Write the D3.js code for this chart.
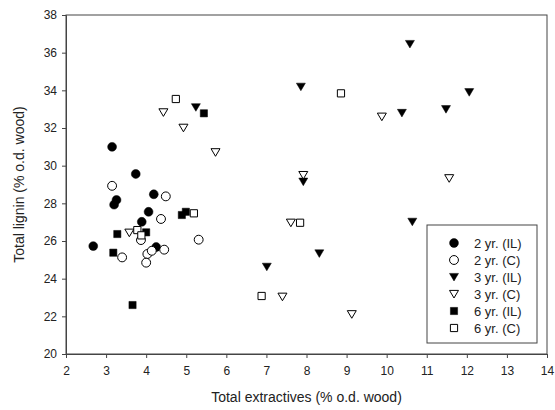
<!DOCTYPE html>
<html><head><meta charset="utf-8">
<script src="https://cdn.jsdelivr.net/npm/d3@7"></script>
<style>body{margin:0;background:#fff;}svg{display:block;font-family:"Liberation Sans",Arial,sans-serif;}</style>
</head><body><svg id="c" width="555" height="410"></svg>
<script>
const seriesNames = ["2 yr. (IL)","2 yr. (C)","3 yr. (IL)","3 yr. (C)","6 yr. (IL)","6 yr. (C)"];
const seriesShapes = ["circle","circle","triangle","triangle","square","square"];
const seriesFilled = [true,false,true,false,true,false];
const yr2IL = [[2.68,25.73],[3.15,31.0],[3.74,29.56],[4.19,28.48],[3.26,28.18],[3.20,27.93],[4.06,27.55],[3.89,27.02],[4.25,25.68]];
const yr2C = [[3.15,28.93],[4.49,28.37],[4.37,27.17],[3.87,26.05],[5.31,26.07],[3.40,25.13],[4.03,25.31],[4.14,25.48],[4.45,25.54],[4.0,24.85]];
const yr3IL = [[10.58,36.46],[7.86,34.19],[12.06,33.9],[10.38,32.8],[11.48,33.0],[7.92,29.15],[10.64,27.02],[8.32,25.34],[7.01,24.63],[5.24,33.1]];
const yr3C = [[9.88,32.6],[7.92,29.5],[11.56,29.33],[7.61,26.97],[7.40,23.04],[9.13,22.11],[4.43,32.83],[4.93,32.01],[5.73,30.71],[3.58,26.44]];
const yr6IL = [[5.44,32.78],[4.89,27.38],[4.99,27.55],[3.28,26.37],[4.0,26.46],[3.18,25.38],[3.66,22.6]];
const yr6C = [[8.86,33.84],[7.84,26.97],[6.88,23.08],[4.74,33.54],[5.19,27.47],[3.78,26.58],[3.88,26.3]];
const seriesData = [yr2IL,yr2C,yr3IL,yr3C,yr6IL,yr6C];
const xTicks = [2,3,4,5,6,7,8,9,10,11,12,13,14];
const yTicks = [20,22,24,26,28,30,32,34,36,38];

const svg = d3.select("#c");
const L=66,R=547,T=15,B=354;
const x = d3.scaleLinear().domain([2,14]).range([L,R]);
const y = d3.scaleLinear().domain([20,38]).range([B,T]);
const ink="#222";

function shapePath(shape){
  if(shape==="circle") return d3.symbol().type(d3.symbolCircle).size(62)();
  if(shape==="square") return d3.symbol().type(d3.symbolSquare).size(52)();
  // downward triangle
  return "M-4.5,-3.6L4.5,-3.6L0,4Z";
}

// frame
svg.append("rect").attr("x",L).attr("y",T).attr("width",R-L).attr("height",B-T)
  .attr("fill","none").attr("stroke","#444").attr("stroke-width",1);

const gx = svg.append("g").attr("transform",`translate(0,${B})`)
  .call(d3.axisBottom(x).tickValues(xTicks).tickSize(4).tickPadding(8).tickFormat(d3.format("d")));
const gy = svg.append("g").attr("transform",`translate(${L},0)`)
  .call(d3.axisLeft(y).tickValues(yTicks).tickSize(4).tickPadding(5).tickFormat(d3.format("d")));
[gx,gy].forEach(g=>{
  g.select(".domain").attr("stroke","#444");
  g.selectAll(".tick line").attr("stroke","#444");
  g.selectAll("text").attr("fill",ink).style("font-size","12px").style("font-family","Liberation Sans, Arial, sans-serif");
});

svg.append("text").attr("x",(L+R)/2).attr("y",402).attr("text-anchor","middle")
  .attr("fill",ink).style("font-size","14px").text("Total extractives (% o.d. wood)");
svg.append("text").attr("transform",`translate(24,${(T+B)/2}) rotate(-90)`).attr("text-anchor","middle")
  .attr("fill",ink).style("font-size","14px").text("Total lignin (% o.d. wood)");

seriesData.forEach((data,i)=>{
  svg.append("g").selectAll("path").data(data).join("path")
    .attr("d",shapePath(seriesShapes[i]))
    .attr("transform",d=>`translate(${x(d[0])},${y(d[1])})`)
    .attr("fill",seriesFilled[i]?"#000":"#fff")
    .attr("stroke","#000").attr("stroke-width",seriesFilled[i]?0.5:1);
});

// legend
const lg = svg.append("g").attr("transform","translate(427,225)");
lg.append("rect").attr("width",110).attr("height",118).attr("fill","#fff").attr("stroke","#444");
seriesNames.forEach((n,i)=>{
  const yy = 18 + i*17;
  lg.append("path").attr("d",shapePath(seriesShapes[i])).attr("transform",`translate(27,${yy})`)
    .attr("fill",seriesFilled[i]?"#000":"#fff").attr("stroke","#000").attr("stroke-width",seriesFilled[i]?0.5:1);
  lg.append("text").attr("x",47).attr("y",yy+4.5).attr("fill",ink).style("font-size","13px").text(n);
});
</script></body></html>
